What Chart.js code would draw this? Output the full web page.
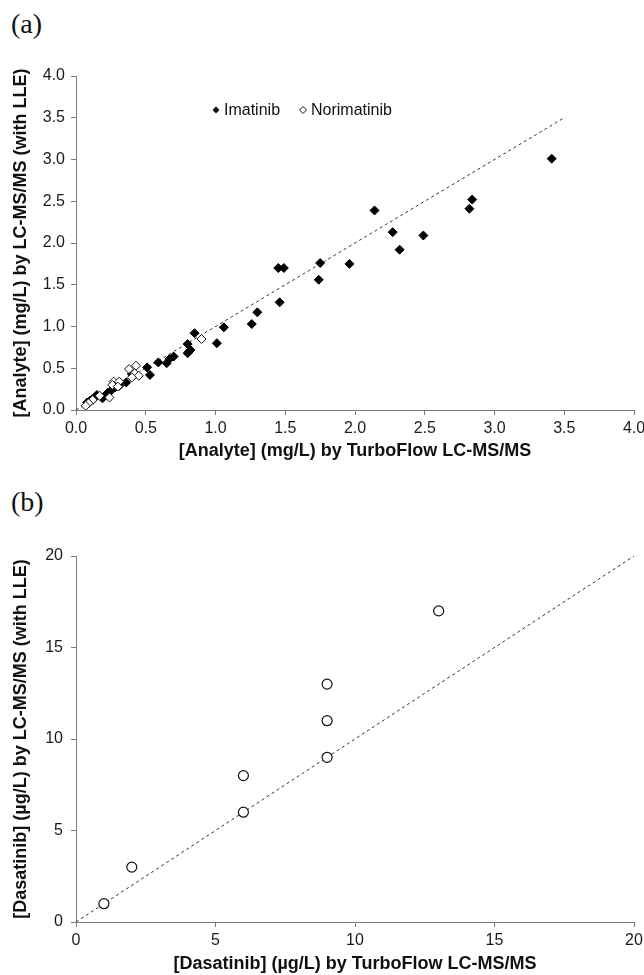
<!DOCTYPE html>
<html>
<head>
<meta charset="utf-8">
<script src="https://cdn.jsdelivr.net/npm/chart.js@4.4.0/dist/chart.umd.min.js"></script>
<style>
  body { margin: 0; background: #fff; width: 644px; height: 975px; overflow: hidden; position: relative; }
  .panel { position: absolute; left: 0; width: 650px; }
  .tag { position: absolute; left: 11px; font-family: "Liberation Serif", serif; font-size: 28px; line-height: 1; color: #111; }
</style>
</head>
<body>
<div class="tag" style="top: 10px;">(a)</div>
<div class="panel" style="top: 40px; height: 440px;"><canvas id="chartA"></canvas></div>
<div class="tag" style="top: 488px;">(b)</div>
<div class="panel" style="top: 520px; height: 455px;"><canvas id="chartB"></canvas></div>
<script>
// panel (a): TurboFlow (x) vs LLE (y), mg/L
var imatinibX = [3.41, 2.84, 2.82, 2.49, 2.32, 2.27, 2.14, 1.96, 1.75, 1.74, 1.49, 1.45, 1.46, 1.30, 1.26, 1.06, 1.01,
    0.85, 0.80, 0.82, 0.81, 0.80, 0.70, 0.67, 0.65, 0.59, 0.53, 0.51, 0.42, 0.40, 0.36, 0.31, 0.28, 0.25, 0.23,
    0.20, 0.19, 0.15, 0.14, 0.13, 0.11, 0.10, 0.08];
var imatinibY = [3.01, 2.52, 2.41, 2.09, 1.92, 2.13, 2.39, 1.75, 1.76, 1.56, 1.70, 1.70, 1.29, 1.17, 1.03, 0.99, 0.80,
    0.92, 0.79, 0.72, 0.70, 0.68, 0.64, 0.61, 0.56, 0.57, 0.42, 0.51, 0.42, 0.43, 0.33, 0.29, 0.27, 0.23, 0.21,
    0.16, 0.14, 0.18, 0.16, 0.14, 0.12, 0.11, 0.09];
var norimatinibX = [0.90, 0.43, 0.38, 0.42, 0.45, 0.40, 0.27, 0.31, 0.26, 0.30, 0.24, 0.17, 0.12, 0.09, 0.07];
var norimatinibY = [0.85, 0.53, 0.49, 0.44, 0.41, 0.39, 0.34, 0.34, 0.30, 0.28, 0.15, 0.17, 0.12, 0.08, 0.05];
var lineA = [0, 3.5];
var ticksA = [0, 0.5, 1.0, 1.5, 2.0, 2.5, 3.0, 3.5, 4.0];

// panel (b): dasatinib, ug/L
var dasatinibX = [1, 2, 6, 6, 9, 9, 9, 13];
var dasatinibY = [1, 3, 6, 8, 9, 11, 13, 17];
var lineB = [0, 20];
var ticksB = [0, 5, 10, 15, 20];

function toPoints(xs, ys) {
    var pts = [];
    for (var i = 0; i < xs.length; i++) {
        pts.push({ x: xs[i], y: ys[i] });
    }
    return pts;
}

var tickFont = { family: '"Liberation Sans", Arial, sans-serif', size: 16 };
var titleFont = { family: '"Liberation Sans", Arial, sans-serif', size: 18, weight: 'bold' };

function axis(min, max, decimals, tickVals, title, isX, titlePad, tickPad) {
    return {
        type: 'linear',
        position: isX ? 'bottom' : 'left',
        min: min,
        max: max,
        afterBuildTicks: function (scale) {
            scale.ticks = tickVals.map(function (v) { return { value: v }; });
        },
        afterFit: function (scale) {
            if (isX) scale.height = scale.chart.height - 36 - scale.chart.__plotH;
            else scale.width = 76;
        },
        ticks: {
            font: tickFont,
            color: '#1a1a1a',
            padding: tickPad,
            maxRotation: 0,
            callback: function (v) { return Number(v).toFixed(decimals); }
        },
        grid: { drawOnChartArea: false, drawTicks: true, tickLength: 5, color: '#7a7a7a', lineWidth: 1 },
        border: { color: '#7a7a7a', width: 1 },
        title: { display: true, text: title, font: titleFont, color: '#111', padding: titlePad }
    };
}

var legendPlugin = {
    id: 'legendInside',
    afterDraw: function (chart) {
        if (chart.canvas.id !== 'chartA') return;
        var ctx = chart.ctx;
        var y = chart.chartArea.top + 34;
        ctx.save();
        ctx.font = '16px "Liberation Sans", Arial, sans-serif';
        ctx.fillStyle = '#111';
        ctx.textBaseline = 'middle';
        // filled diamond
        ctx.beginPath();
        ctx.moveTo(216, y - 3.5); ctx.lineTo(219.5, y); ctx.lineTo(216, y + 3.5); ctx.lineTo(212.5, y);
        ctx.closePath();
        ctx.fill();
        ctx.fillText('Imatinib', 224, y + 1);
        // open diamond
        ctx.beginPath();
        ctx.moveTo(303, y - 3.5); ctx.lineTo(306.5, y); ctx.lineTo(303, y + 3.5); ctx.lineTo(299.5, y);
        ctx.closePath();
        ctx.lineWidth = 1;
        ctx.strokeStyle = '#111';
        ctx.stroke();
        ctx.fillText('Norimatinib', 311, y + 1);
        ctx.restore();
    }
};

function makeChart(id, plotH, datasets, xAxis, yAxis) {
    var canvas = document.getElementById(id);
    return new Chart(canvas, {
        type: 'scatter',
        data: { datasets: datasets },
        options: {
            responsive: true,
            maintainAspectRatio: false,
            animation: false,
            layout: { padding: { left: 0, top: 36, right: 16, bottom: 0 } },
            plugins: { legend: { display: false }, tooltip: { enabled: false } },
            scales: { x: xAxis, y: yAxis }
        },
        plugins: [legendPlugin, {
            id: 'plotH',
            beforeInit: function (c) { c.__plotH = plotH; }
        }]
    });
}

makeChart('chartA', 334, [
    {
        label: 'Norimatinib',
        data: toPoints(norimatinibX, norimatinibY),
        pointStyle: 'rectRot',
        pointRadius: 4.5,
        backgroundColor: '#fff',
        borderColor: '#111',
        borderWidth: 1,
        order: 1
    },
    {
        label: 'Imatinib',
        data: toPoints(imatinibX, imatinibY),
        pointStyle: 'rectRot',
        pointRadius: 4.5,
        backgroundColor: '#000',
        borderColor: '#000',
        borderWidth: 1,
        order: 2
    },
    {
        label: 'identity',
        data: toPoints(lineA, lineA),
        showLine: true,
        pointRadius: 0,
        borderColor: '#333',
        borderWidth: 1,
        borderDash: [3, 3],
        order: 3
    }
], axis(0, 4, 1, ticksA, '[Analyte] (mg/L) by TurboFlow LC-MS/MS', true, { top: 0, bottom: 18 }, 4),
   axis(0, 4, 1, ticksA, '[Analyte] (mg/L) by LC-MS/MS (with LLE)', false, { top: 10, bottom: 0 }, 6));

makeChart('chartB', 366, [
    {
        label: 'Dasatinib',
        data: toPoints(dasatinibX, dasatinibY),
        pointStyle: 'circle',
        pointRadius: 5,
        backgroundColor: '#fff',
        borderColor: '#111',
        borderWidth: 1.2,
        order: 1
    },
    {
        label: 'identity',
        data: toPoints(lineB, lineB),
        showLine: true,
        pointRadius: 0,
        borderColor: '#333',
        borderWidth: 1,
        borderDash: [3, 3],
        order: 2
    }
], axis(0, 20, 0, ticksB, '[Dasatinib] (\u00b5g/L) by TurboFlow LC-MS/MS', true, { top: 0, bottom: 0 }, 4),
   axis(0, 20, 0, ticksB, '[Dasatinib] (\u00b5g/L) by LC-MS/MS (with LLE)', false, { top: 10, bottom: 0 }, 8));
</script>
</body>
</html>
